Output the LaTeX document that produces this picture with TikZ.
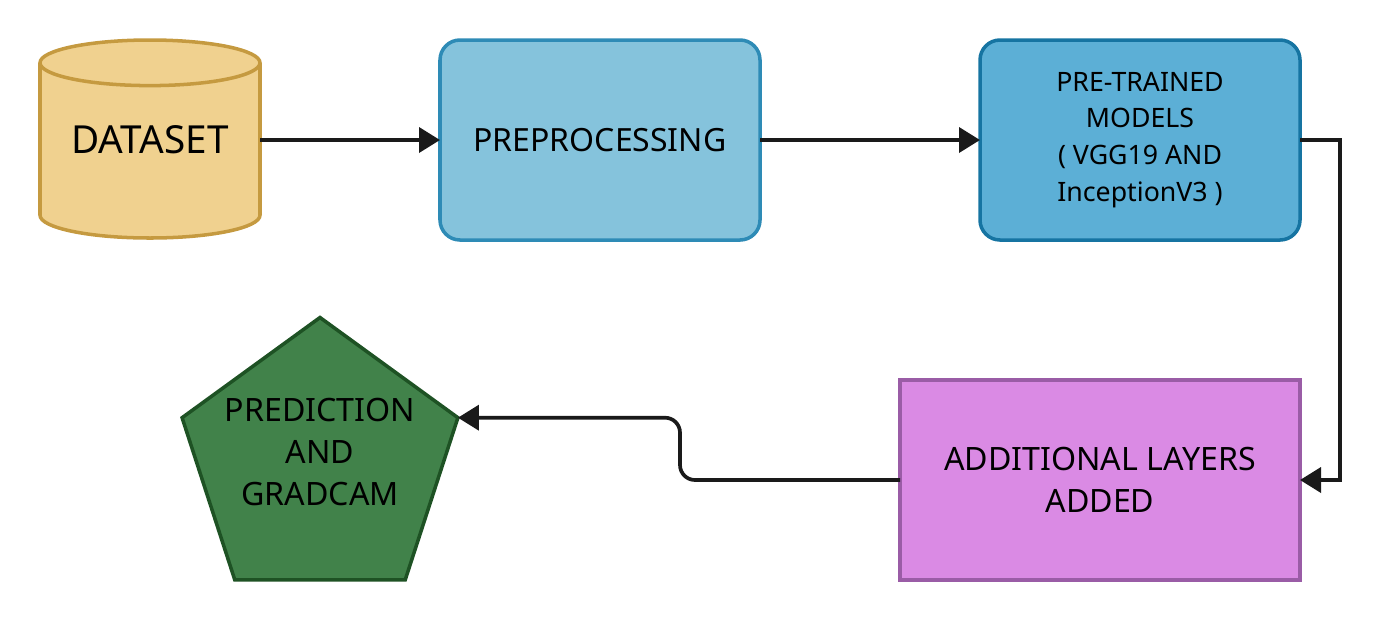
\documentclass[tikz,border=0pt]{standalone}
\usepackage{fontspec}
\setmainfont{Noto Sans}
\usetikzlibrary{shapes.geometric,arrows.meta}
\definecolor{dataFill}{HTML}{F0D18F}
\definecolor{dataLine}{HTML}{C59A40}
\definecolor{prepFill}{HTML}{85C3DC}
\definecolor{prepLine}{HTML}{2E8BB6}
\definecolor{modelFill}{HTML}{5CAFD6}
\definecolor{modelLine}{HTML}{1674A2}
\definecolor{layerFill}{HTML}{DA8AE4}
\definecolor{layerLine}{HTML}{9A5CA6}
\definecolor{predFill}{HTML}{41824A}
\definecolor{predLine}{HTML}{1E5224}
\definecolor{wire}{HTML}{1A1A1A}
\begin{document}
\begin{tikzpicture}[
    database/.style={cylinder, shape border rotate=90, aspect=0.27, draw=dataLine, fill=dataFill, line width=2pt, minimum width=4.4cm, minimum height=3.96cm, outer sep=0pt, text depth=0.6cm, font=\fontsize{22}{26}\selectfont},
    stage/.style={rectangle, rounded corners=0.4cm, line width=2pt, minimum width=6.4cm, minimum height=4cm, outer sep=0pt, align=center},
    block/.style={rectangle, line width=2pt, draw=layerLine, fill=layerFill, minimum width=8cm, minimum height=4cm, outer sep=0pt, align=center, font=\fontsize{18.3}{24}\selectfont},
    result/.style={regular polygon, regular polygon sides=5, draw=predLine, fill=predFill, line width=2pt, minimum size=5.8cm, inner sep=0pt, outer sep=0pt},
    flow/.style={-{Triangle[length=0.42cm,width=0.5cm]}, line width=2.1pt, draw=wire}
  ]
  \useasboundingbox (0,0) rectangle (27.6,-12.4);

  \node[database, anchor=shape center] (data) at (3,-2.78) {DATASET};
  \node[stage, draw=prepLine, fill=prepFill, font=\fontsize{18.2}{24}\selectfont] (prep) at (12,-2.8) {PREPROCESSING};
  \node[stage, draw=modelLine, fill=modelFill, font=\fontsize{15.2}{21}\selectfont] (model) at (22.8,-2.8) {PRE-TRAINED\\MODELS\\( VGG19 AND\\InceptionV3 )};
  \node[block] (layers) at (22,-9.6) {ADDITIONAL LAYERS\\ADDED};
  \node[result] (pred) at (6.4,-9.25) {};
  \node[align=center, font=\fontsize{18.3}{24}\selectfont] (predtext) at (6.4,-9.04) {PREDICTION\\AND\\GRADCAM};

  \draw[flow] (data.east |- prep.west) -- (prep.west);
  \draw[flow] (prep.east) -- (model.west);
  \draw[flow] (model.east) -- ++(0.8,0) |- (layers.east);
  \draw[flow, rounded corners=0.3cm] (layers.west) -- ++(-4.4,0) |- (pred.corner 5);
\end{tikzpicture}
\end{document}
